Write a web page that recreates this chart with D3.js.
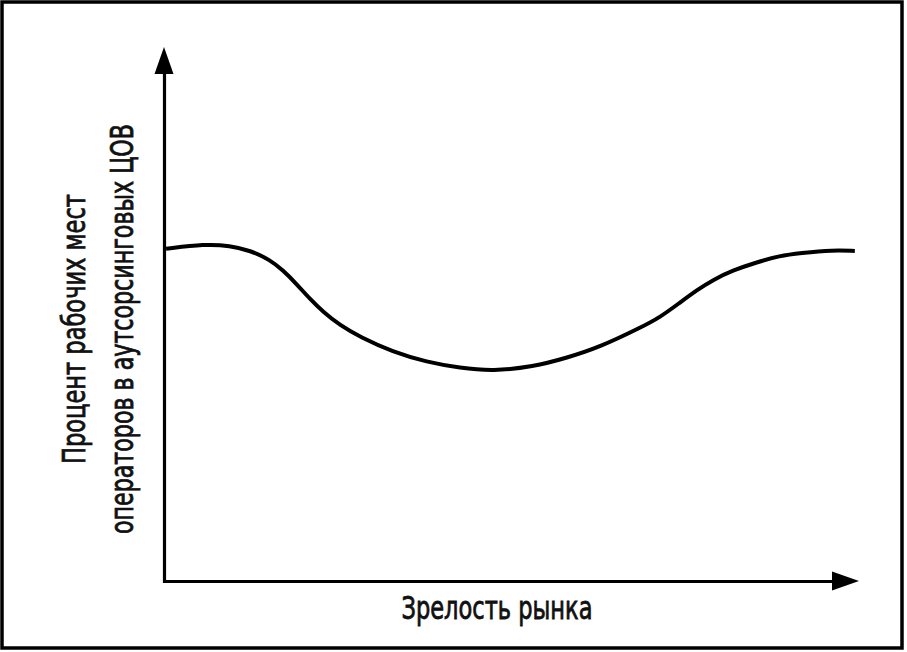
<!DOCTYPE html>
<html>
<head>
<meta charset="utf-8">
<script src="https://cdn.jsdelivr.net/npm/d3@7"></script>
<style>
  html, body { margin: 0; padding: 0; background: #fff; }
  svg { display: block; }
  text { font-family: "Liberation Sans Narrow", "DejaVu Sans Condensed", "Roboto", sans-serif; fill: #111; stroke: #111; stroke-width: 0.8px; }
</style>
</head>
<body>
<svg id="chart" width="907" height="652"></svg>
<script>
// ---- data ----
const maturity = [0.3, 5.9, 9.5, 12.4, 15.3, 17.1, 19.1, 21.0, 22.9, 25.3, 28.2, 32.9, 37.8, 42.6, 47.3,
                  53.1, 58.0, 62.7, 68.5, 71.4, 74.2, 76.7, 79.0, 81.9, 85.3, 88.6, 91.5, 96.3, 99.4];
const share = [62.2, 63.1, 62.8, 61.9, 60.1, 58.2, 55.6, 52.8, 50.4, 47.9, 45.7, 42.9, 41.0, 39.9, 39.3,
               40.1, 41.8, 43.8, 47.4, 49.4, 52.1, 54.5, 56.4, 58.2, 59.7, 60.9, 61.4, 62.0, 61.8];
const xTitle = "Зрелость рынка";
const yTitleLines = ["Процент рабочих мест", "операторов в аутсорсинговых ЦОВ"];

// ---- layout ----
const svg = d3.select("#chart");
const x = d3.scaleLinear().domain([0, 100]).range([164, 859]);
const y = d3.scaleLinear().domain([0, 100]).range([581, 47]);

// frame
svg.append("rect").attr("x", 2).attr("y", 2).attr("width", 900).attr("height", 646)
  .attr("fill", "none").attr("stroke", "#000").attr("stroke-width", 3.5);

// axes (no ticks, just lines)
const arrowLen = 27, arrowHalf = 9.5;
svg.append("g").attr("transform", `translate(0,${y(0)})`)
  .call(d3.axisBottom(x.copy().range([x(0) - 1.5, x(100) - arrowLen + 2])).tickValues([]).tickSizeOuter(0));
svg.append("g").attr("transform", `translate(${x(0)},0)`)
  .call(d3.axisLeft(y.copy().range([y(0) + 1.5, y(100) + arrowLen - 2])).tickValues([]).tickSizeOuter(0));
svg.selectAll(".domain").attr("stroke", "#000").attr("stroke-width", 3.2);

// arrowheads
svg.append("path")
  .attr("d", `M${x(100)},${y(0)} L${x(100) - arrowLen},${y(0) - arrowHalf} L${x(100) - arrowLen},${y(0) + arrowHalf} Z`)
  .attr("fill", "#000");
svg.append("path")
  .attr("d", `M${x(0)},${y(100)} L${x(0) - arrowHalf},${y(100) + arrowLen} L${x(0) + arrowHalf},${y(100) + arrowLen} Z`)
  .attr("fill", "#000");

// curve
const line = d3.line().x((d, i) => x(maturity[i])).y((d, i) => y(share[i])).curve(d3.curveBasis);
svg.append("path").datum(share).attr("d", line)
  .attr("fill", "none").attr("stroke", "#000").attr("stroke-width", 4).attr("stroke-linecap", "butt");

// titles
svg.append("text").attr("x", 497).attr("y", 619).attr("text-anchor", "middle")
  .attr("font-size", 32)
  .attr("textLength", 191).attr("lengthAdjust", "spacingAndGlyphs")
  .text(xTitle);

const yLens = [270, 410];
const yBase = [85, 133];
yTitleLines.forEach((t, i) => {
  svg.append("text")
    .attr("transform", `translate(${yBase[i]},329) rotate(-90)`)
    .attr("text-anchor", "middle").attr("font-size", 32)
    .attr("textLength", yLens[i]).attr("lengthAdjust", "spacingAndGlyphs")
    .text(t);
});
</script>
</body>
</html>
